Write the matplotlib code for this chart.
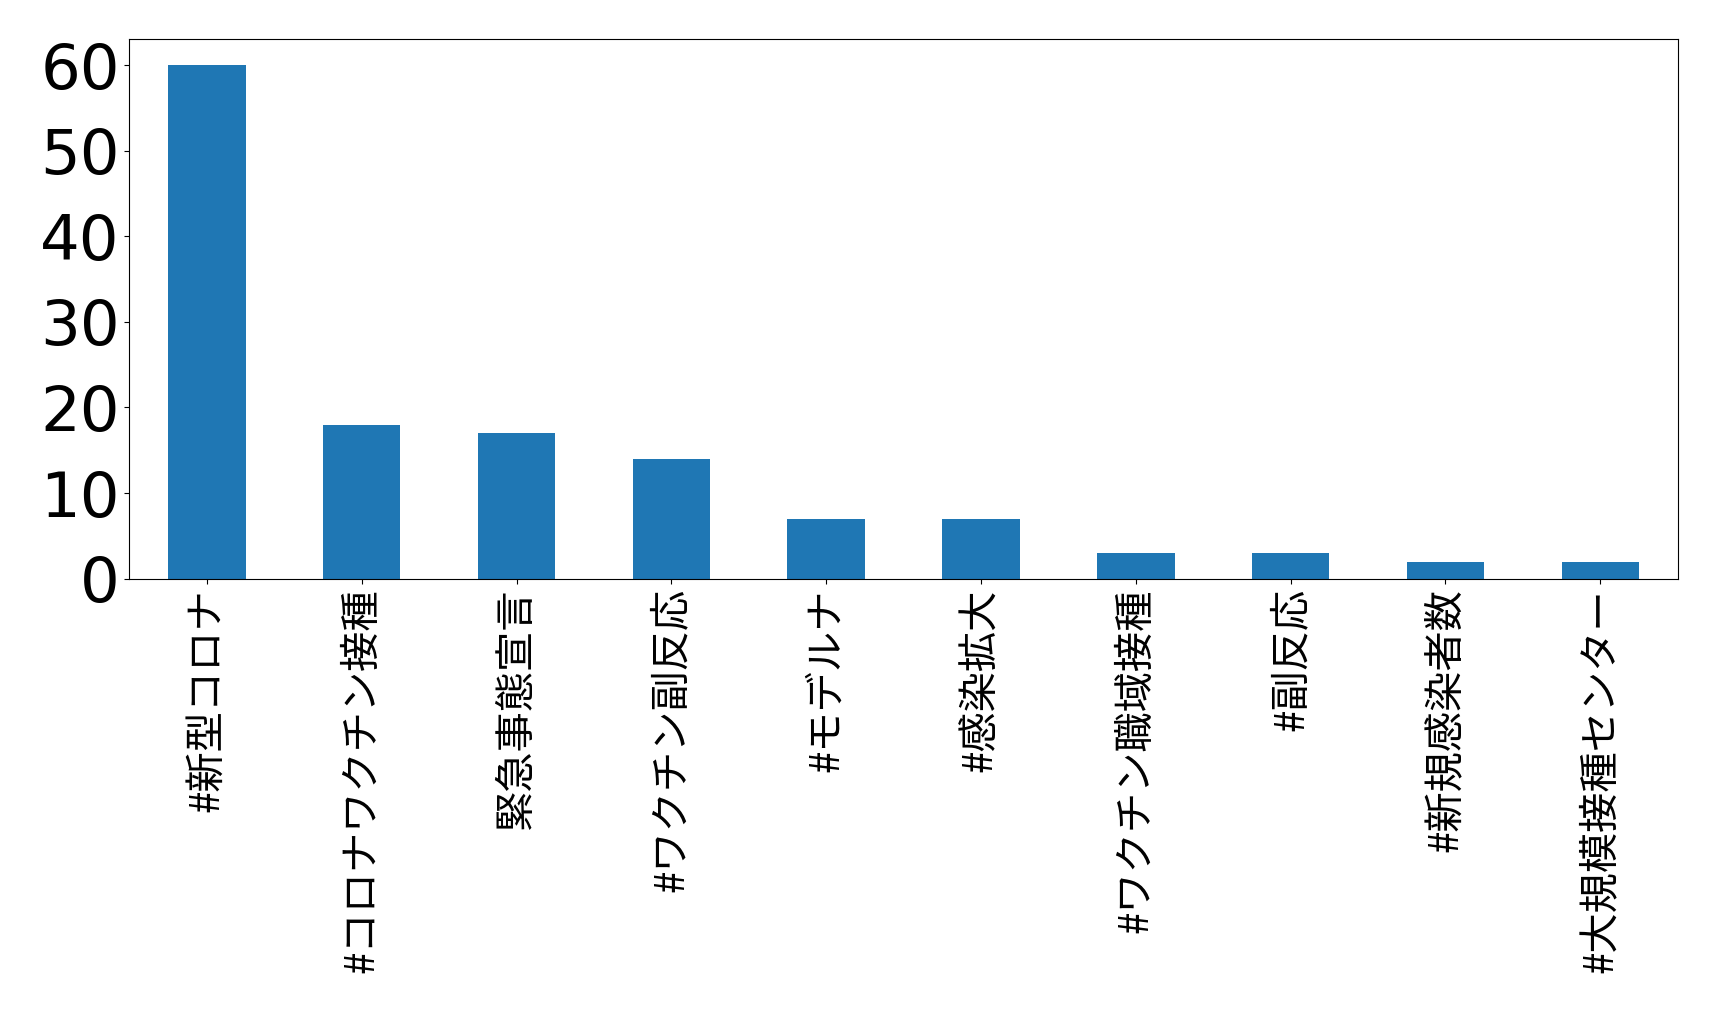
import matplotlib.pyplot as plt
import pandas as pd
import numpy as np

# hashtag counts (top 10)
tags = ["#新型コロナ", "#コロナワクチン接種", "緊急事態宣言", "#ワクチン副反応", "#モデルナ",
        "#感染拡大", "#ワクチン職域接種", "#副反応", "#新規感染者数", "#大規模接種センター"]
counts = [60, 18, 17, 14, 7, 7, 3, 3, 2, 2]

plt.rcParams['font.family'] = ['Noto Sans CJK JP', 'DejaVu Sans']

s = pd.Series(counts, index=tags)

fig = plt.figure(figsize=(17.19, 10.18), dpi=100)
ax = fig.add_axes([0.0753, 0.4316, 0.9007, 0.5297])
s.plot(kind="bar", ax=ax, color="#1f77b4", width=0.5)

plt.yticks(fontsize=45, family='DejaVu Sans')
plt.xticks(rotation=90, fontsize=29)

plt.savefig("out.png", dpi=100)
